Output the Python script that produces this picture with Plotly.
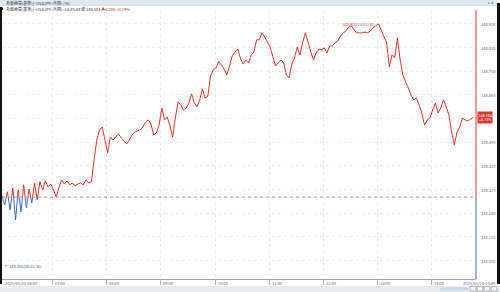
import pandas as pd
import plotly.graph_objects as go

# ---------------- data ----------------
start_time = "2025-05-23 06:04"
step = "3min"
price = [
    148.302, 148.270, 148.317, 148.252, 148.331, 148.216, 148.324, 148.245, 148.342, 148.259,
    148.327, 148.277, 148.349, 148.288, 148.353, 148.324, 148.356, 148.335, 148.345, 148.324,
    148.299, 148.331, 148.360, 148.345, 148.356, 148.342, 148.349, 148.338, 148.345, 148.349,
    148.342, 148.360, 148.349, 148.353, 148.432, 148.503, 148.539, 148.550, 148.503, 148.457,
    148.514, 148.503, 148.514, 148.525, 148.511, 148.500, 148.489, 148.503, 148.521, 148.532,
    148.536, 148.539, 148.550, 148.568, 148.575, 148.561, 148.521, 148.529, 148.557, 148.618,
    148.575, 148.586, 148.554, 148.514, 148.582, 148.640, 148.629, 148.611, 148.618, 148.636,
    148.669, 148.636, 148.622, 148.647, 148.687, 148.654, 148.661, 148.733, 148.755, 148.762,
    148.784, 148.773, 148.758, 148.737, 148.769, 148.805, 148.819, 148.830, 148.798, 148.776,
    148.791, 148.780, 148.809, 148.819, 148.863, 148.863, 148.888, 148.873, 148.855, 148.837,
    148.802, 148.769, 148.780, 148.791, 148.780, 148.737, 148.726, 148.776, 148.798, 148.837,
    148.809, 148.852, 148.888, 148.855, 148.819, 148.791, 148.816, 148.830, 148.827, 148.834,
    148.816, 148.841, 148.841, 148.852, 148.859, 148.877, 148.888, 148.895, 148.909, 148.913,
    148.898, 148.888, 148.888, 148.888, 148.891, 148.888, 148.895, 148.906, 148.913, 148.920,
    148.898, 148.873, 148.855, 148.766, 148.809, 148.798, 148.870, 148.791, 148.737, 148.712,
    148.690, 148.665, 148.647, 148.654, 148.629, 148.600, 148.557, 148.575, 148.582, 148.611,
    148.636, 148.600, 148.618, 148.647, 148.622, 148.593, 148.532, 148.486, 148.532, 148.550,
    148.582, 148.575, 148.572, 148.579, 148.584,
]
base_price = 148.298
last_price = 148.584
change = 0.286
change_pct = 0.19
high_label = "148.920(13:02:30)"
low_price = 148.050
low_label = "←148.050(06:01:50)"
y_ticks = [148.070, 148.155, 148.240, 148.325, 148.410, 148.495, 148.580,
           148.665, 148.750, 148.835, 148.920]
x_ticks = ["2025-05-23 07:00", "2025-05-23 08:00", "2025-05-23 09:00", "2025-05-23 10:00",
           "2025-05-23 11:00", "2025-05-23 12:00", "2025-05-23 13:00", "2025-05-23 14:00"]
x_tick_labels = ["07:00", "08:00", "09:00", "10:00", "11:00", "12:00", "13:00", "14:00"]
first_label = "2025/05/23-06:00"
last_label = "2025/05/23-14:49"
title_row1 = "為替換算(基準)(~USDJPY~外国) (%)"
title_row2 = "為替換算(基準)(~USDJPY~外国)~14:45:44 値 148.584 "
title_row2_change = "▲0.286 +0.19%"

# ---------------- styling ----------------
RED = "#d9362c"
BLUE = "#3b68b0"
GRAY = "#666666"
W, H = 500, 292
ML, MR, MT, MB = 2, 24, 10, 13
x_range = ["2025-05-23 06:04", "2025-05-23 14:49"]
y_range = [148.004, 148.970]


def px_x(px):
    return (px - ML) / (W - ML - MR)


def px_y(py):
    return (H - MB - py) / (H - MT - MB)


times = list(pd.date_range(start_time, periods=len(price), freq=step))

# split line into parts above (red) / below (blue) the previous close
rx, ry, bx, by = [], [], [], []
for i in range(len(price) - 1):
    t0, t1, v0, v1 = times[i], times[i + 1], price[i], price[i + 1]
    a0, a1 = v0 >= base_price, v1 >= base_price
    if a0 and a1:
        rx += [t0, t1, None]; ry += [v0, v1, None]
    elif not a0 and not a1:
        bx += [t0, t1, None]; by += [v0, v1, None]
    else:
        tc = t0 + (t1 - t0) * ((base_price - v0) / (v1 - v0))
        if a0:
            rx += [t0, tc, None]; ry += [v0, base_price, None]
            bx += [tc, t1, None]; by += [base_price, v1, None]
        else:
            bx += [t0, tc, None]; by += [v0, base_price, None]
            rx += [tc, t1, None]; ry += [base_price, v1, None]

fig = go.Figure()
fig.add_trace(go.Scatter(x=rx, y=ry, mode="lines", line=dict(color=RED, width=1),
                         hoverinfo="skip", showlegend=False))
fig.add_trace(go.Scatter(x=bx, y=by, mode="lines", line=dict(color=BLUE, width=1),
                         hoverinfo="skip", showlegend=False))

shapes = []
# previous close dotted line
shapes.append(dict(type="line", xref="paper", yref="y", x0=0, x1=1, y0=base_price, y1=base_price,
                   line=dict(color="#9a9a9a", width=1, dash="dot")))
# right axis line, red above / blue below
shapes.append(dict(type="line", xref="paper", yref="y", x0=1, x1=1, y0=base_price, y1=y_range[1],
                   line=dict(color=RED, width=1)))
shapes.append(dict(type="line", xref="paper", yref="y", x0=1, x1=1, y0=y_range[0], y1=base_price,
                   line=dict(color=BLUE, width=1)))
# header bar
shapes.append(dict(type="rect", xref="paper", yref="paper", x0=px_x(0), x1=px_x(497),
                   y0=px_y(6), y1=px_y(0), fillcolor="#dde6f1", line=dict(width=0), layer="below"))
# left / right black borders
shapes.append(dict(type="rect", xref="paper", yref="paper", x0=px_x(0), x1=px_x(2),
                   y0=px_y(284), y1=px_y(7), fillcolor="#111111", line=dict(width=0)))
shapes.append(dict(type="rect", xref="paper", yref="paper", x0=px_x(497), x1=px_x(500),
                   y0=px_y(284), y1=px_y(3), fillcolor="#111111", line=dict(width=0)))
# bottom scrollbar
shapes.append(dict(type="rect", xref="paper", yref="paper", x0=px_x(0), x1=px_x(500),
                   y0=px_y(292), y1=px_y(286), fillcolor="#e9ecef", line=dict(width=0)))
shapes.append(dict(type="rect", xref="paper", yref="paper", x0=px_x(440), x1=px_x(468),
                   y0=px_y(291), y1=px_y(287), fillcolor="#c9dcef", line=dict(width=0)))
for bx0 in [470, 477, 484, 491]:
    shapes.append(dict(type="rect", xref="paper", yref="paper", x0=px_x(bx0), x1=px_x(bx0 + 6),
                       y0=px_y(291), y1=px_y(286.5), fillcolor="#f6f6f6",
                       line=dict(width=0.6, color="#888888")))
# header marker
shapes.append(dict(type="rect", xref="paper", yref="paper", x0=px_x(1), x1=px_x(3),
                   y0=px_y(10), y1=px_y(7.5), fillcolor="#222222", line=dict(width=0)))

annotations = []
small = dict(family="Noto Sans CJK JP", size=4, color=GRAY)
annotations.append(dict(xref="paper", yref="paper", x=px_x(4), y=px_y(3), text=title_row1,
                        showarrow=False, xanchor="left", yanchor="middle",
                        font=dict(family="Noto Sans CJK JP", size=4, color="#333333")))
annotations.append(dict(xref="paper", yref="paper", x=px_x(4), y=px_y(9),
                        text=title_row2 + f"<span style='color:{RED}'>{title_row2_change}</span>",
                        showarrow=False, xanchor="left", yanchor="middle",
                        font=dict(family="Noto Sans CJK JP", size=4, color="#333333")))
annotations.append(dict(xref="paper", yref="paper", x=px_x(496), y=px_y(3), text="▫ ×",
                        showarrow=False, xanchor="right", yanchor="middle",
                        font=dict(size=5, color="#333333")))
# y tick labels (the one under the last-price box is hidden by it in the reference)
for v in y_ticks:
    if abs(v - last_price) < 0.02:
        continue
    annotations.append(dict(xref="paper", yref="y", x=px_x(479), y=v, text=f"{v:.3f}",
                            showarrow=False, xanchor="left", yanchor="middle", font=small))
# x tick labels
annotations.append(dict(xref="paper", yref="paper", x=px_x(3), y=px_y(282.5), text=first_label,
                        showarrow=False, xanchor="left", yanchor="middle", font=small))
for t, lab in zip(x_ticks, x_tick_labels):
    annotations.append(dict(xref="x", yref="paper", x=t, y=px_y(282.5), text=lab,
                            showarrow=False, xanchor="left", yanchor="middle", xshift=0.5,
                            font=small))
annotations.append(dict(xref="paper", yref="paper", x=px_x(496.5), y=px_y(282.5), text=last_label,
                        showarrow=False, xanchor="right", yanchor="middle", font=small))
# high / low labels
hi_idx = price.index(max(price))
annotations.append(dict(xref="x", yref="y", x=times[hi_idx], y=max(price), text=high_label,
                        showarrow=False, xanchor="right", yanchor="middle", xshift=-1,
                        font=dict(family="Noto Sans CJK JP", size=4, color="#c0504d")))
annotations.append(dict(xref="paper", yref="y", x=px_x(3), y=low_price, text=low_label,
                        showarrow=False, xanchor="left", yanchor="middle",
                        font=dict(family="Noto Sans CJK JP", size=4, color=BLUE)))
# last price box
annotations.append(dict(xref="paper", yref="y", x=px_x(477), y=last_price,
                        text=f"{last_price:.3f}<br>+{change_pct:.2f}%",
                        showarrow=False, xanchor="left", yanchor="middle",
                        bgcolor=RED, borderpad=0.5,
                        font=dict(family="Noto Sans", size=3.6, color="white")))

fig.update_layout(
    width=W, height=H,
    margin=dict(l=ML, r=MR, t=MT, b=MB, pad=0),
    paper_bgcolor="white", plot_bgcolor="white",
    shapes=shapes, annotations=annotations,
    xaxis=dict(range=x_range, type="date", tickvals=x_ticks, showticklabels=False,
               showgrid=True, gridcolor="#ececec", griddash="dot", gridwidth=1,
               ticks="outside", ticklen=5, tickcolor="#b5b5b5", tickwidth=1,
               showline=True, linecolor="#a0a0a0", linewidth=1, zeroline=False, fixedrange=True),
    yaxis=dict(range=y_range, side="right", tickvals=y_ticks, showticklabels=False,
               showgrid=True, gridcolor="#efefef", griddash="dot", gridwidth=1,
               showline=False, zeroline=False, fixedrange=True),
    hovermode=False,
)

fig.write_html("out.html", config={"displayModeBar": False})
